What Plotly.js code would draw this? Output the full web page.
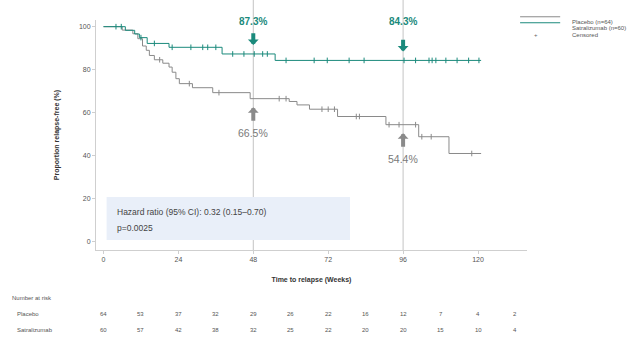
<!DOCTYPE html>
<html>
<head>
<meta charset="utf-8">
<script src="https://cdn.plot.ly/plotly-3.0.1.min.js"></script>
<style>html,body{margin:0;padding:0;background:#fff;}#chart{width:642px;height:337px;}</style>
</head>
<body>
<div id="chart"></div>
<script>
// ---- data ----
const placeboTimes = [0, 6, 9.4, 11, 12.5, 13.7, 14.7, 16.3, 19, 21, 22, 23.2, 24.3, 28.5, 35, 47, 59.5, 62, 66, 75, 90.5, 101, 110.7, 121];
const placeboSurv  = [100, 98.4, 96.7, 94.4, 91, 89, 86.6, 84.6, 83, 81.2, 78.8, 75.8, 73.5, 71.6, 69.3, 66.5, 65.2, 63.6, 61.6, 58.2, 54.4, 48.8, 41, 41];
const satraTimes = [0, 7, 10, 11.5, 14, 21, 38, 55, 121];
const satraSurv  = [100, 98.3, 96.6, 94.9, 92.2, 90.4, 87.3, 84.3, 84.3];
const placeboCensor = [18, 27.5, 37, 56.3, 58.5, 70, 72, 74, 81, 82, 91.5, 94.7, 100, 102, 105, 118];
const satraCensor = [4, 5.7, 12, 16.3, 22, 28, 31.8, 33.4, 36, 41.4, 45, 48.3, 51, 52.5, 58.5, 67.5, 71.7, 78.7, 83.5, 96.3, 100, 104.3, 105.3, 106.5, 109.7, 113.3, 117, 120.3];
const landmarkWeeks = [48, 96];
const satraLandmark = [87.3, 84.3];
const placeboLandmark = [66.5, 54.4];
const riskTimes = [0, 12, 24, 36, 48, 60, 72, 84, 96, 108, 120, 132];
const placeboRisk = [64, 53, 37, 32, 29, 26, 22, 16, 12, 7, 4, 2];
const satraRisk = [60, 57, 42, 38, 32, 25, 22, 20, 20, 15, 10, 4];
const xTicks = [0, 24, 48, 72, 96, 120];
const yTicks = [0, 20, 40, 60, 80, 100];
const legendLabels = ['Placebo (n=64)', 'Satralizumab (n=60)', 'Censored'];
const hrText = ['Hazard ratio (95% CI): 0.32 (0.15–0.70)', 'p=0.0025'];

// ---- style ----
const TEAL = '#1b8a7c';
const GRAY = '#8a8a8a';
const FONT = 'Liberation Sans, Arial, sans-serif';

function stepAt(times, vals, t) {
  let v = vals[0];
  for (let i = 0; i < times.length; i++) { if (times[i] <= t) v = vals[i]; }
  return v;
}

const traces = [
  {x: placeboTimes, y: placeboSurv, mode: 'lines', line: {shape: 'hv', color: GRAY, width: 1}, hoverinfo: 'skip'},
  {x: satraTimes, y: satraSurv, mode: 'lines', line: {shape: 'hv', color: TEAL, width: 1}, hoverinfo: 'skip'},
  {x: placeboCensor, y: placeboCensor.map(t => stepAt(placeboTimes, placeboSurv, t)), mode: 'markers',
   marker: {symbol: 'line-ns-open', size: 4, color: GRAY, line: {color: GRAY, width: 1}}, hoverinfo: 'skip'},
  {x: satraCensor, y: satraCensor.map(t => stepAt(satraTimes, satraSurv, t)), mode: 'markers',
   marker: {symbol: 'line-ns-open', size: 4, color: TEAL, line: {color: TEAL, width: 1}}, hoverinfo: 'skip'}
];

const shapes = [];
const annotations = [];

// reference verticals
landmarkWeeks.forEach(w => {
  shapes.push({type: 'line', xref: 'x', yref: 'paper', x0: w, x1: w, y0: 0, y1: 1.09, line: {color: '#c4c4c4', width: 1}, layer: 'below'});
});

// HR box
shapes.push({type: 'rect', xref: 'x', yref: 'y', x0: 1, x1: 79, y0: 0.8, y1: 20.8, fillcolor: '#e9eff9', line: {width: 0}, layer: 'below'});
annotations.push({xref: 'x', yref: 'y', x: 3.7, y: 13.6, text: hrText[0], showarrow: false, xanchor: 'left', font: {size: 8.5, color: '#444', family: FONT}});
annotations.push({xref: 'x', yref: 'y', x: 3.7, y: 6.4, text: hrText[1], showarrow: false, xanchor: 'left', font: {size: 8.5, color: '#444', family: FONT}});

// landmark labels and arrows
landmarkWeeks.forEach((w, i) => {
  annotations.push({xref: 'x', yref: 'y', x: w, y: 102.6, text: '<b>' + satraLandmark[i].toFixed(1) + '%</b>', showarrow: false,
    font: {size: 10, color: TEAL, family: FONT}});
  annotations.push({xref: 'x', yref: 'y', axref: 'x', ayref: 'y', x: w, y: satraLandmark[i] + 4.2, ax: w, ay: satraLandmark[i] + 10.3, text: '',
    showarrow: true, arrowhead: 1, arrowsize: 0.45, arrowwidth: 4, arrowcolor: TEAL});
  annotations.push({xref: 'x', yref: 'y', axref: 'x', ayref: 'y', x: w, y: placeboLandmark[i] - 4, ax: w, ay: placeboLandmark[i] - 11, text: '',
    showarrow: true, arrowhead: 1, arrowsize: 0.45, arrowwidth: 4, arrowcolor: GRAY});
  annotations.push({xref: 'x', yref: 'y', x: w, y: placeboLandmark[i] - 16, text: placeboLandmark[i].toFixed(1) + '%', showarrow: false,
    font: {size: 10.5, color: '#7a7a7a', family: FONT}});
});

// legend (manual)
const legY = [1.014, 0.988, 0.957];
shapes.push({type: 'line', xref: 'paper', yref: 'paper', x0: 0.984, x1: 1.077, y0: legY[0], y1: legY[0], line: {color: GRAY, width: 1}});
shapes.push({type: 'line', xref: 'paper', yref: 'paper', x0: 0.984, x1: 1.077, y0: legY[1], y1: legY[1], line: {color: TEAL, width: 1}});
annotations.push({xref: 'paper', yref: 'paper', x: 1.03, y: legY[2], text: '+', showarrow: false, font: {size: 6, color: '#666', family: FONT}});
legendLabels.forEach((t, i) => {
  annotations.push({xref: 'paper', yref: 'paper', x: 1.1, y: legY[i], text: t, showarrow: false, xanchor: 'left',
    font: {size: 6, color: '#555', family: FONT}});
});

// number at risk table
const rowY = [-0.231, -0.3, -0.37];
annotations.push({xref: 'paper', yref: 'paper', x: -0.2, y: rowY[0], text: 'Number at risk', showarrow: false, xanchor: 'left',
  font: {size: 6, color: '#555', family: FONT}});
annotations.push({xref: 'paper', yref: 'paper', x: -0.188, y: rowY[1], text: 'Placebo', showarrow: false, xanchor: 'left',
  font: {size: 6, color: '#555', family: FONT}});
annotations.push({xref: 'paper', yref: 'paper', x: -0.188, y: rowY[2], text: 'Satralizumab', showarrow: false, xanchor: 'left',
  font: {size: 6, color: '#555', family: FONT}});
riskTimes.forEach((t, i) => {
  annotations.push({xref: 'x', yref: 'paper', x: t, y: rowY[1], text: String(placeboRisk[i]), showarrow: false,
    font: {size: 6, color: '#555', family: FONT}});
  annotations.push({xref: 'x', yref: 'paper', x: t, y: rowY[2], text: String(satraRisk[i]), showarrow: false,
    font: {size: 6, color: '#555', family: FONT}});
});

const layout = {
  width: 642, height: 337,
  margin: {l: 96, r: 115, t: 20, b: 87},
  paper_bgcolor: '#fff', plot_bgcolor: '#fff',
  showlegend: false,
  font: {family: FONT, size: 7, color: '#555'},
  xaxis: {
    range: [-2.4, 135.7], tickvals: xTicks, ticktext: xTicks.map(String),
    showgrid: false, zeroline: false, showline: true, linecolor: '#cfcfcf', linewidth: 1,
    ticks: 'outside', ticklen: 3, tickcolor: '#cfcfcf', tickfont: {size: 7, color: '#555'},
    title: {text: '<b>Time to relapse (Weeks)</b>', font: {size: 7, color: '#333'}, standoff: 14}
  },
  yaxis: {
    range: [-3.9, 103.1], tickvals: yTicks, ticktext: yTicks.map(String),
    showgrid: false, zeroline: false, showline: true, linecolor: '#cfcfcf', linewidth: 1,
    ticks: 'outside', ticklen: 3, tickcolor: '#cfcfcf', tickfont: {size: 7, color: '#555'},
    title: {text: '<b>Proportion relapse-free (%)</b>', font: {size: 7, color: '#333'}, standoff: 18}
  },
  shapes: shapes,
  annotations: annotations
};

Plotly.newPlot('chart', traces, layout, {staticPlot: true, displayModeBar: false});
</script>
</body>
</html>
